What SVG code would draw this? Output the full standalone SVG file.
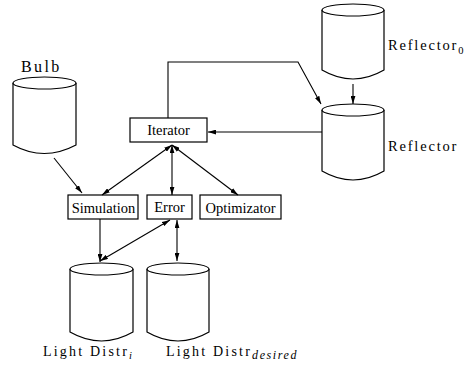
<svg xmlns="http://www.w3.org/2000/svg" width="472" height="366" viewBox="0 0 472 366">
<defs>
<marker id="ah" viewBox="0 0 10 6" refX="10" refY="3" markerWidth="8" markerHeight="5" markerUnits="userSpaceOnUse" orient="auto-start-reverse">
<path d="M0,0 L10,3 L0,6 z" fill="#000"/>
</marker>
</defs>
<style>
.cyl{fill:#fff;stroke:#000;stroke-width:1.2}
.box{fill:#fff;stroke:#000;stroke-width:1.2}
text{font-family:'Liberation Serif','DejaVu Serif','Times New Roman',serif;fill:#000}
.btxt{font-size:14.5px;text-anchor:middle}
.lbl{font-size:15px;letter-spacing:2px}
.sub{font-size:10.5px}
.con{fill:none;stroke:#000;stroke-width:1.1}
</style>
<g id="bulb">
<path class="cyl" d="M13,83 L13,145 Q44,162 76,145 L76,83"/>
<ellipse class="cyl" cx="44.5" cy="83" rx="31.5" ry="6"/>
<text class="lbl" x="21" y="72" font-family="Liberation Serif, serif" style="font-size:16px;letter-spacing:2.4px">Bulb</text>
</g>
<g id="reflector0">
<path class="cyl" d="M322,10 L322,70 Q353,88 384,70 L384,10"/>
<ellipse class="cyl" cx="353" cy="10" rx="31" ry="6"/>
<text class="lbl" x="388" y="50" font-family="Liberation Serif, serif" style="font-size:14.5px;letter-spacing:1.8px">Reflector<tspan class="sub" dy="4" style="letter-spacing:0">0</tspan></text>
</g>
<g id="reflector">
<path class="cyl" d="M322,110 L322,171 Q353,189 384,171 L384,110"/>
<ellipse class="cyl" cx="353" cy="110" rx="31" ry="6"/>
<text class="lbl" x="388" y="151" font-family="Liberation Serif, serif" style="font-size:14.5px;letter-spacing:1.8px">Reflector</text>
</g>
<g id="iterator">
<rect class="box" x="130" y="118" width="77" height="24"/>
<text class="btxt" x="168.5" y="135" font-family="Liberation Serif, serif">Iterator</text>
</g>
<g id="simulation">
<rect class="box" x="68" y="195" width="70" height="24"/>
<text class="btxt" x="103.5" y="213" font-family="Liberation Serif, serif">Simulation</text>
</g>
<g id="error">
<rect class="box" x="147" y="195" width="45" height="24"/>
<text class="btxt" x="169.5" y="211.5" font-family="Liberation Serif, serif">Error</text>
</g>
<g id="optimizator">
<rect class="box" x="200" y="195" width="81" height="24"/>
<text class="btxt" x="240.5" y="212.5" font-family="Liberation Serif, serif">Optimizator</text>
</g>
<g id="lightdistr_i">
<path class="cyl" d="M70,269 L70,332 Q101.5,350 133,332 L133,269"/>
<ellipse class="cyl" cx="101.5" cy="269" rx="31.5" ry="6"/>
<text class="lbl" x="43" y="356" font-family="Liberation Serif, serif" style="font-size:14px;letter-spacing:2.2px">Light Distr<tspan class="sub" dy="3" style="font-style:italic;letter-spacing:0">i</tspan></text>
</g>
<g id="lightdistr_desired">
<path class="cyl" d="M147,269 L147,332 Q178,350 209,332 L209,269"/>
<ellipse class="cyl" cx="178" cy="269" rx="31" ry="6"/>
<text class="lbl" x="166" y="356" font-family="Liberation Serif, serif" style="font-size:14px;letter-spacing:2.2px">Light Distr<tspan class="sub" dy="3" style="font-style:italic;font-size:12px;letter-spacing:1.6px">desired</tspan></text>
</g>
<g id="connectors">
<path class="con" d="M168,118 L168,62 L298,62 L321,104" marker-end="url(#ah)"/>
<path class="con" d="M353,84 L353,104" marker-end="url(#ah)"/>
<path class="con" d="M322,132 L208,132" marker-end="url(#ah)"/>
<path class="con" d="M54,158 L82,193" marker-end="url(#ah)"/>
<path class="con" d="M172,145 L102,195" marker-start="url(#ah)" marker-end="url(#ah)"/>
<path class="con" d="M172,145 L172,195" marker-start="url(#ah)" marker-end="url(#ah)"/>
<path class="con" d="M172,145 L238,195" marker-start="url(#ah)" marker-end="url(#ah)"/>
<path class="con" d="M100,219 L100,262" marker-end="url(#ah)"/>
<path class="con" d="M170,220 L100,261" marker-start="url(#ah)" marker-end="url(#ah)"/>
<path class="con" d="M177,220 L177,261" marker-start="url(#ah)" marker-end="url(#ah)"/>
</g>
</svg>
